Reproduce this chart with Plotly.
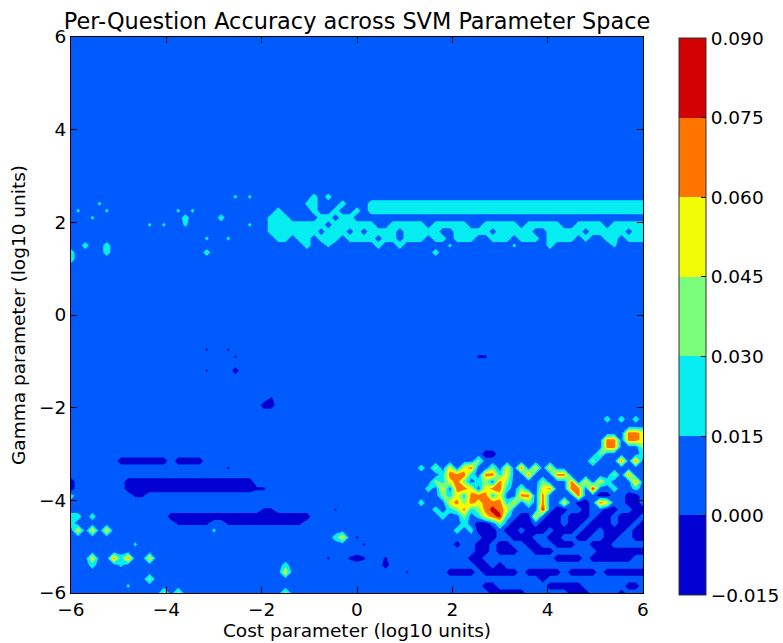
import numpy as np
import plotly.graph_objects as go

# ---------------- data ----------------
cost_log10 = np.linspace(-6, 6, 81)    # x grid (log10 cost)
gamma_log10 = np.linspace(-6, 6, 81)   # y grid (log10 gamma)

# accuracy band, one char per grid cell
band_value = {"0": -0.0075, "d": -0.002, "1": 0.0075, "a": 0.018, "2": 0.0225,
              "3": 0.0375, "4": 0.0525, "5": 0.0675, "6": 0.0825}

BLUE_ROW = "1111111111 1111111111 1111111111 1111111111 1111111111 1111111111 1111111111 1111111111 1"

# key = gamma row index (0 = -6, 80 = +6)
accuracy_rows = {
    57: "1111111111 1111111111 111a1a1111 1111212111 1111111111 1111111111 1111111111 1111111111 1",
    56: "1111a11111 1111111111 1111111111 111a211121 1122222222 2222222222 2222222222 2222222222 2",
    55: "1a111a1111 11111a1a11 1111111112 1111211211 2122222222 2222222222 2222222222 2222222222 2",
    54: "111a111111 1111112111 1211111122 2111122122 1111111111 1111111111 1111111111 1111111111 1",
    53: "1111111111 1a1a11a111 11111a1122 2222221222 2221122222 1222221122 2221222221 1222212222 2",
    52: "1111111111 1111111111 1111111122 2222212221 2122221222 2211222221 2222211222 2212222212 2",
    51: "1111111111 111111111a 11a1111112 2122122212 2221221222 1221222112 2212221222 2121122122 2",
    50: "1121121111 1111111111 1111111111 111211a111 1112112111 111a111111 11a1111211 111111a111 1",
    49: "2111121111 1111111112 1111111111 1111111111 1111111111 1211111111 1111111111 1111111111 1",
    48: "2111111111 1111111111 1111111111 1111111111 1111111111 1111111111 1111111111 1111111111 1",
    35: "1111111111 111111111d 11d1111111 1111111111 1111111111 1111111111 1111111111 1111111111 1",
    34: "1111111111 1111111111 111d111111 1111111111 1111111111 1111111dd1 1111111111 1111111111 1",
    32: "1111111111 111111111d 1110111111 1111111111 1111111111 1111111111 1111111111 1111111111 1",
    28: "1111111111 1111111111 11111111d1 1111111111 1111111111 1111111111 1111111111 1111111111 1",
    27: "1111111111 1111111111 1111111001 1111111111 1111111111 1111111111 1111111111 1111111111 1",
    25: "1111111111 1111111111 1111111111 1111111111 1111111111 1111111111 1111111111 1111121212 1",
    23: "1111111111 1111111111 1111111111 1111111111 1111111111 1111111111 1111111111 1111111155 4",
    22: "1111111111 1111111111 1111111111 1111111111 1111111111 1111111111 1111111111 1111155155 4",
    21: "1111111111 1111111111 1111111111 1111111111 1111111111 1111111111 1111111111 1111155111 3",
    20: "1111111111 1111111111 1111111111 1111111111 1111111111 1111111100 1111111111 1111311111 2",
    19: "1111111000 0000100001 1111111111 1111111111 1111111111 1111111311 1111111111 1113111515 1",
    18: "1111111111 1111111111 11d1111111 1111111111 1111111112 1314145113 1415141411 1111111111 1",
    17: "1111111111 1111111111 1111111111 1111111111 1111111111 1125552155 2411511155 1111113151 1",
    16: "0111111100 0000000000 0000001111 1111111111 1111111111 1324531231 5311113111 5141421115 1",
    15: "0111111100 0000000000 000000dd11 1111111111 1111111111 2141554145 5213114511 5516112112 1",
    14: "211111111d d111111111 1111111111 1111111111 1111111111 1132425552 4115515111 1511001100 1",
    13: "1111111111 1111111111 1111111111 1111111111 1111111112 1114535455 5241315114 1001541100 1",
    12: "1111111111 1111111111 1111111dd1 1111111d11 1111111111 1212352356 5411116100 1101100110 0",
    11: "2212111111 1111000000 0000000000 0000111111 1111111111 1121131245 6210041001 0001001000 1",
    10: "2111111111 11111ddddd 11dddddddd ddd1111111 1111111111 1111121001 3100010001 0010001001 0",
    9:  "1414141111 1111111111 a111111111 1111111111 1111111111 1111212000 1001000100 0100100010 0",
    8:  "1111111111 1111111111 1111111111 1111111241 d111111111 1111111100 1100011001 1001100110 0",
    7:  "111111111a 1111111111 1111111111 1111111111 1d11111111 1111011001 0011001100 0110001111 1",
    6:  "1111111111 1111111111 1111111111 1111111111 1111111111 1111111001 0001100011 1111000000 0",
    5:  "1114115251 1411111111 1111111111 111111d11d 0d11d11111 1111110011 1111111100 0010000001 1",
    4:  "1112111a11 1111111111 1111111111 2111111111 1111011111 1111111001 0111111111 1111111111 1",
    3:  "1111111111 1111111111 1111111111 4111111111 1111111d11 1110000100 0001000001 0000100000 0",
    2:  "1111111111 1311111111 1111111111 1111111111 1111111111 1111111111 1111110111 1111111111 1",
    1:  "11111111a1 1111111111 1111111111 1111111111 1111111111 1111111100 1111111000 0011111100 1",
    0:  "1111111111 1113131111 1111111111 3111111111 1111111111 1111111110 0000111111 0001111011 1",
}

level_edges = [-0.015, 0.0, 0.015, 0.03, 0.045, 0.06, 0.075, 0.09]
level_labels = ["\u22120.015", "0.000", "0.015", "0.030", "0.045", "0.060", "0.075", "0.090"]
band_colors = ["#0000d2", "#005bff", "#06edf1", "#7bff7b", "#f1fc06", "#ff7500", "#d20000"]
axis_ticks = [-6, -4, -2, 0, 2, 4, 6]
axis_tick_labels = ["\u22126", "\u22124", "\u22122", "0", "2", "4", "6"]

# ---------------- build ----------------
z = []
for k in range(len(gamma_log10)):
    row = accuracy_rows.get(k, BLUE_ROW).replace(" ", "")
    row = (row + "1" * 81)[:81]
    z.append([band_value[c] for c in row])

FONT = "DejaVu Sans"
fig = go.Figure()
fig.add_trace(go.Contour(
    x=cost_log10, y=gamma_log10, z=z,
    autocontour=False,
    contours=dict(start=level_edges[1], end=level_edges[-2], size=0.015,
                  coloring="fill", showlines=False),
    line=dict(width=0, smoothing=0),
    colorscale=[[i / 6, c] for i, c in enumerate(band_colors)],
    showscale=False, hoverinfo="skip",
))

step_scale = []
for i, c in enumerate(band_colors):
    step_scale += [[i / 7, c], [(i + 1) / 7, c]]

fig.add_trace(go.Scatter(
    x=[None], y=[None], mode="markers", showlegend=False, hoverinfo="skip",
    marker=dict(color=[0.0], cmin=level_edges[0], cmax=level_edges[-1],
                colorscale=step_scale, showscale=True,
                colorbar=dict(thickness=27, thicknessmode="pixels",
                              len=557, lenmode="pixels",
                              x=1.063, xanchor="left", y=0.497, yanchor="middle",
                              xpad=0, ypad=0,
                              tickvals=level_edges, ticktext=level_labels,
                              ticks="inside", ticklen=5, tickcolor="black",
                              outlinecolor="#333", outlinewidth=1,
                              tickfont=dict(family=FONT, size=18.5, color="black"))),
))

axis_common = dict(range=[-6, 6], tickvals=axis_ticks, ticktext=axis_tick_labels,
                   ticks="inside", ticklen=6, tickcolor="black", showline=True,
                   linecolor="black", linewidth=1, mirror="ticks", showgrid=False,
                   zeroline=False, tickfont=dict(family=FONT, size=18.5, color="black"))

fig.update_layout(
    width=783, height=643,
    margin=dict(l=71, r=140, t=37, b=50, autoexpand=False),
    paper_bgcolor="white", plot_bgcolor="white",
    font=dict(family=FONT, size=18.5, color="black"),
    title=dict(text="Per-Question Accuracy across SVM Parameter Space",
               font=dict(family=FONT, size=22.4, color="black"),
               x=0.5, xref="paper", xanchor="center",
               y=1, yref="paper", yanchor="bottom", pad=dict(b=8)),
    xaxis=dict(**axis_common, title=dict(text="Cost parameter (log10 units)", standoff=4,
                                         font=dict(family=FONT, size=18.5))),
    yaxis=dict(**axis_common, title=dict(text="Gamma parameter (log10 units)", standoff=8,
                                         font=dict(family=FONT, size=18.5))),
)

fig.write_html("out.html")
